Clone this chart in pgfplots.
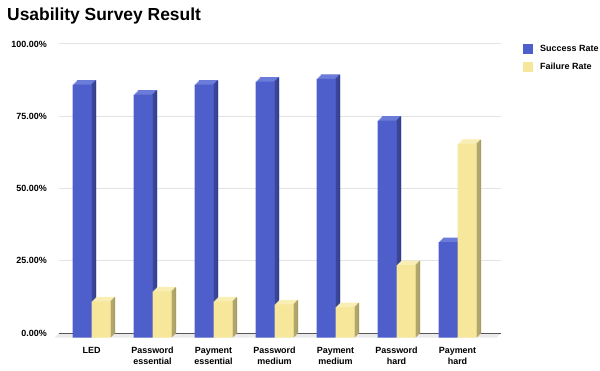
\documentclass[border=0pt]{standalone}
\usepackage{pgfplots}
\pgfplotsset{compat=1.18}
\usepackage{pgfplotstable}
\usepackage{fontspec}
\setmainfont{Liberation Sans}
\definecolor{bF}{HTML}{4E5FCB}
\definecolor{bT}{HTML}{6B7BDA}
\definecolor{bS}{HTML}{333E8C}
\definecolor{yF}{HTML}{F6E79B}
\definecolor{yT}{HTML}{F9EEB4}
\definecolor{yS}{HTML}{A89E64}
\definecolor{gridc}{HTML}{E2E2E2}
\definecolor{floorc}{HTML}{EBEBEB}
\definecolor{axisc}{HTML}{555555}

\pgfplotstableread{
x s f
0 87.5 12.5
1 84.0 16.0
2 87.5 12.5
3 88.5 11.5
4 89.5 10.5
5 75.0 25.0
6 33.0 67.0
}\rates

\pgfplotsset{
  layer/.style n args={3}{ybar, forget plot, draw=none, fill=#3, bar width=19bp, bar shift=#1, /tikz/yshift=#2},
  strip/.style n args={3}{ybar, forget plot, draw=none, fill=#3, bar width=1.1bp, bar shift=#1, /tikz/yshift=#2},
}

\begin{document}
\begin{tikzpicture}
\useasboundingbox (0,0) rectangle (600bp,371bp);
\node[anchor=base west, inner sep=0pt, font=\fontsize{17.5}{20}\selectfont\bfseries] at (7bp,350bp) {Usability Survey Result};
\begin{axis}[
  at={(59bp,38bp)}, anchor=south west,
  scale only axis, width=442bp, height=289bp,
  xmin=-0.533, xmax=6.713, ymin=0, ymax=100,
  clip=false,
  axis line style={draw=none},
  major tick length=0pt,
  ymajorgrids, grid style={gridc, line width=1bp},
  ytick={0,25,50,75,100},
  yticklabels={0.00\%,25.00\%,50.00\%,75.00\%,100.00\%},
  xtick={0,1,2,3,4,5,6},
  xticklabels={LED,Password\\essential,Payment\\essential,Password\\medium,Payment\\medium,Password\\hard,Payment\\hard},
  tick label style={font=\fontsize{9}{11}\selectfont\bfseries, inner sep=0pt},
  xticklabel style={align=center, anchor=north, yshift=-14bp},
  yticklabel style={anchor=east, xshift=-12bp},
  legend style={at={(rel axis cs:1,1)}, anchor=north west, xshift=22bp, draw=none, fill=none, inner sep=0pt, row sep=8bp, font=\fontsize{9}{11}\selectfont\bfseries, nodes={inner sep=0pt},
    /tikz/every odd column/.append style={column sep=7bp}},
  legend cell align=left,
  legend image code/.code={\fill[#1] (0bp,-5bp) rectangle (10bp,5bp);},
]
\fill[floorc] (axis cs:-0.533,0) -- (axis cs:6.713,0) -- ++(-4.5bp,-4.5bp) -- ([xshift=-4.5bp,yshift=-4.5bp]axis cs:-0.533,0) -- cycle;
\draw[axisc, line width=1bp] (axis cs:-0.533,0) -- (axis cs:6.713,0);

\addlegendimage{fill=bF, draw=none}
\addlegendentry{Success Rate}
\addlegendimage{fill=yF, draw=none}
\addlegendentry{Failure Rate}

% Success Rate: top face layers
\addplot[layer={-8.5bp}{-3.5bp}{bT}] table[x=x,y=s]{\rates};
\addplot[layer={-7.5bp}{-2.5bp}{bT}] table[x=x,y=s]{\rates};
\addplot[layer={-6.5bp}{-1.5bp}{bT}] table[x=x,y=s]{\rates};
\addplot[layer={-5.5bp}{-0.5bp}{bT}] table[x=x,y=s]{\rates};
\addplot[layer={-5bp}{0bp}{bT}] table[x=x,y=s]{\rates};
% side face strips
\addplot[strip={0.5bp}{-4bp}{bS}] table[x=x,y=s]{\rates};
\addplot[strip={1.5bp}{-3bp}{bS}] table[x=x,y=s]{\rates};
\addplot[strip={2.5bp}{-2bp}{bS}] table[x=x,y=s]{\rates};
\addplot[strip={3.5bp}{-1bp}{bS}] table[x=x,y=s]{\rates};
\addplot[strip={4bp}{-0.5bp}{bS}] table[x=x,y=s]{\rates};
% front face
\addplot[layer={-9.5bp}{-4.5bp}{bF}] table[x=x,y=s]{\rates};

% Failure Rate: top face layers
\addplot[layer={10.5bp}{-3.5bp}{yT}] table[x=x,y=f]{\rates};
\addplot[layer={11.5bp}{-2.5bp}{yT}] table[x=x,y=f]{\rates};
\addplot[layer={12.5bp}{-1.5bp}{yT}] table[x=x,y=f]{\rates};
\addplot[layer={13.5bp}{-0.5bp}{yT}] table[x=x,y=f]{\rates};
\addplot[layer={14bp}{0bp}{yT}] table[x=x,y=f]{\rates};
% side face strips
\addplot[strip={19.5bp}{-4bp}{yS}] table[x=x,y=f]{\rates};
\addplot[strip={20.5bp}{-3bp}{yS}] table[x=x,y=f]{\rates};
\addplot[strip={21.5bp}{-2bp}{yS}] table[x=x,y=f]{\rates};
\addplot[strip={22.5bp}{-1bp}{yS}] table[x=x,y=f]{\rates};
\addplot[strip={23bp}{-0.5bp}{yS}] table[x=x,y=f]{\rates};
% front face
\addplot[layer={9.5bp}{-4.5bp}{yF}] table[x=x,y=f]{\rates};
\end{axis}
\end{tikzpicture}
\end{document}
